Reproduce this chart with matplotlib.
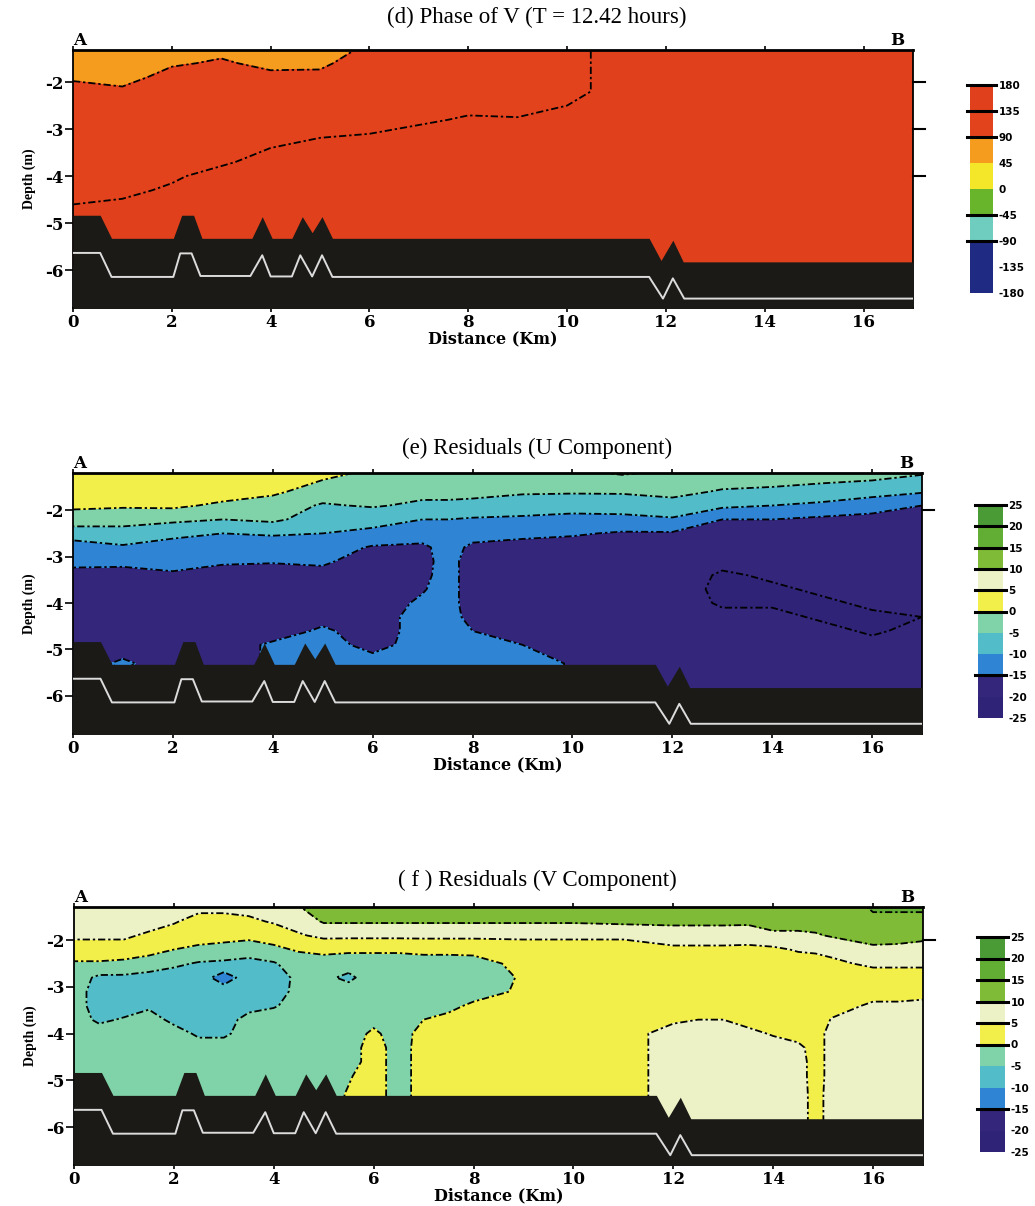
import numpy as np
import matplotlib
matplotlib.use("Agg")
import matplotlib.pyplot as plt
import matplotlib.transforms as mtransforms

plt.rcParams['axes.unicode_minus'] = False

# ---------------- data ----------------
# depth levels of the profile samples (m)
z_rows = [-1.2, -1.6, -1.9, -2.2, -2.5, -2.8, -3.1, -3.4, -3.7, -4.0, -4.3, -4.6, -4.9, -5.3, -5.9]

# (d) phase of V (degrees), one profile per station
x_d = [0, 1, 2, 3, 4, 5, 6, 7, 8, 9, 10, 11, 12, 13, 14, 15, 16, 17]
phase_v = [
    [75, 75, 82, 112, 112, 112, 112, 112, 112, 112, 112, 135, 160, 160, 160],
    [75, 75, 75, 98, 112, 112, 112, 112, 112, 112, 120, 145, 160, 160, 160],
    [75, 85, 105, 112, 112, 112, 112, 112, 112, 125, 145, 160, 160, 160, 160],
    [75, 95, 112, 112, 112, 112, 112, 112, 125, 160, 160, 160, 160, 160, 160],
    [75, 80, 100, 112, 112, 112, 112, 135, 160, 160, 160, 160, 160, 160, 160],
    [75, 82, 100, 112, 112, 112, 125, 160, 160, 160, 160, 160, 160, 160, 160],
    [92, 112, 112, 112, 112, 112, 135, 160, 160, 160, 160, 160, 160, 160, 160],
    [112, 112, 112, 112, 112, 120, 160, 160, 160, 160, 160, 160, 160, 160, 160],
    [112, 112, 112, 112, 112, 145, 160, 160, 160, 160, 160, 160, 160, 160, 160],
    [112, 112, 112, 112, 112, 140, 160, 160, 160, 160, 160, 160, 160, 160, 160],
    [112, 112, 112, 112, 135, 160, 160, 160, 160, 160, 160, 160, 160, 160, 160],
    [160, 160, 160, 160, 160, 160, 160, 160, 160, 160, 160, 160, 160, 160, 160],
    [160, 160, 160, 160, 160, 160, 160, 160, 160, 160, 160, 160, 160, 160, 160],
    [160, 160, 160, 160, 160, 160, 160, 160, 160, 160, 160, 160, 160, 160, 160],
    [160, 160, 160, 160, 160, 160, 160, 160, 160, 160, 160, 160, 160, 160, 160],
    [160, 160, 160, 160, 160, 160, 160, 160, 160, 160, 160, 160, 160, 160, 160],
    [160, 160, 160, 160, 160, 160, 160, 160, 160, 160, 160, 160, 160, 160, 160],
    [160, 160, 160, 160, 160, 160, 160, 160, 160, 160, 160, 160, 160, 160, 160],
]

# (e) residual U (cm/s)
x_e = [0, 1, 2, 3, 4, 5, 6, 7, 7.5, 8, 9, 10, 11, 12, 13, 14, 15, 16, 17]
resid_u = [
    [2.5, 2.5, 1, -2.5, -7.5, -12.5, -12.5, -18, -18, -18, -18, -18, -18, -18, -18],
    [2.5, 2.5, 0.5, -2.5, -7.5, -10.5, -13, -18, -18, -18, -18, -18, -18, -14, -18],
    [2.5, 2.5, 1, -4, -8.5, -12.5, -12.5, -16, -18, -18, -18, -18, -18, -18, -18],
    [2.5, 2.5, -1, -5, -10, -12.5, -14, -18, -18, -18, -18, -18, -18, -18, -18],
    [2.5, 1, -2.5, -4, -9.5, -12.5, -14.5, -18, -18, -18, -18, -18, -14, -14, -18],
    [1.5, -2.5, -5.5, -7.5, -10, -12.5, -14, -17, -18, -18, -17, -14, -12.5, -12.5, -12.5],
    [-1, -3, -4.5, -8.5, -11, -15.5, -18, -18, -18, -18, -18, -18, -17, -12.5, -12.5],
    [-1, -3.5, -6, -10, -12.5, -16, -17, -16.5, -15.5, -14, -12.5, -12.5, -12.5, -12.5, -12.5],
    [-1, -3.5, -6, -10, -12.5, -13, -12.5, -12.5, -12.5, -12.5, -12.5, -12.5, -12.5, -12.5, -12.5],
    [-1, -3.5, -6.5, -10.5, -13, -16, -18, -18, -18, -18, -17, -15, -12.5, -12.5, -12.5],
    [-1, -4.5, -7, -11, -14, -16.5, -18, -18, -18, -18, -18, -17, -15, -12.5, -12.5],
    [-1, -4.5, -8, -11.5, -14.5, -17, -18, -18, -18, -18, -18, -18, -18, -15.5, -15.5],
    [0.5, -4.5, -7.5, -11.5, -15.5, -18, -18, -18, -18, -18, -18, -18, -18, -18, -18],
    [-1, -3.5, -7, -10.5, -15.5, -18, -18, -18, -18, -18, -18, -18, -18, -18, -18],
    [-1.5, -5.5, -9, -15, -18, -18, -19, -20.5, -21, -20.5, -19, -18, -18, -18, -18],
    [-2, -6, -10, -15, -18, -18, -19, -19.5, -20.5, -20.5, -19, -18, -18, -18, -18],
    [-2.5, -7, -11, -16, -18, -18, -18, -19, -19.5, -20.5, -20.5, -19, -18, -18, -18],
    [-3, -8, -13, -16.5, -18, -18, -18, -18, -19, -19.5, -20.5, -20.5, -19, -18, -18],
    [-4.5, -9.5, -15, -17, -18, -18, -18, -18, -18, -19.5, -20, -19, -18, -18, -18],
]

# (f) residual V (cm/s)
x_f = [0, 0.5, 1, 1.5, 2, 2.5, 3, 3.5, 4, 4.5, 5, 5.5, 6, 6.5, 7, 7.5, 8, 9, 10, 11,
       12, 12.5, 13, 13.5, 14, 14.5, 14.85, 15.2, 16, 16.5, 17]
resid_v = [
    [7.5, 7.5, 6, 2.5, -0.5, -2.5, -2.5, -2.5, -2.5, -2.5, -2.5, -2.5, -2.5, -2.5, -2.5],
    [7.5, 7.5, 6, 2.5, -0.5, -6, -7.5, -7.5, -6, -2.5, -2.5, -2.5, -2.5, -2.5, -2.5],
    [7.5, 7.5, 6, 2.5, -1, -6, -7.5, -7.5, -4.5, -2.5, -2.5, -2.5, -2.5, -2.5, -2.5],
    [7.5, 7.5, 4, 1.5, -2, -7, -7.5, -6, -2.5, -2.5, -2.5, -2.5, -2.5, -2.5, -2.5],
    [7.5, 5.5, 2.5, 0, -4, -7.5, -7.5, -7.5, -6.5, -2.5, -2.5, -2.5, -2.5, -2.5, -2.5],
    [7.5, 3, 2, -1, -5.5, -7.5, -7.5, -7.5, -7.5, -6, -2.5, -2.5, -2.5, -2.5, -2.5],
    [7.5, 3, 1.5, -1.5, -6, -12.5, -7.5, -7.5, -7.5, -6, -2.5, -2.5, -2.5, -2.5, -2.5],
    [7.5, 4, 1, -2, -7, -7.5, -7.5, -7, -3, -2.5, -2.5, -2.5, -2.5, -2.5, -2.5],
    [7.5, 5.5, 2, -1, -5.5, -7, -6.5, -5.5, -2.5, -2.5, -2.5, -2.5, -2.5, -2.5, -2.5],
    [10.5, 7, 4.5, 0.5, -2.5, -4, -4, -3, -2.5, -2.5, -2.5, -2.5, -2.5, -2.5, -2.5],
    [12.5, 10.5, 6, 1.5, -2.5, -4, -3, -2.5, -2.5, -2.5, -2.5, -2.5, -2.5, -2.5, -2.5],
    [12.5, 10.5, 6, 1, -3, -6, -3, -2.5, -2.5, -2.5, -2.5, -2.5, -0.5, 0.5, 0.5],
    [12.5, 10.5, 6, 1, -3, -2.5, -2.5, -2.5, -1.5, 1, 2.5, 2.5, 2.5, 2.5, 2.5],
    [12.5, 10.5, 6, 1, -3, -2.5, -2.5, -2.5, -2.5, -2.5, -2.5, -2.5, -2.5, -2.5, -2.5],
    [12.5, 10.5, 6, 1.5, -2.5, -2.5, -2.5, -2.5, 0, 2, 2.5, 2.5, 2.5, 2.5, 2.5],
    [12.5, 10.5, 6, 1.5, -2.5, -2.5, -2.5, -1.5, 1.5, 2.5, 2.5, 2.5, 2.5, 2.5, 2.5],
    [12.5, 10.5, 6, 1.5, -2, -2.5, -2.5, 1, 2.5, 2.5, 2.5, 2.5, 2.5, 2.5, 2.5],
    [12.5, 10.5, 6, 2.5, 1.5, 0.5, 1, 2.5, 2.5, 2.5, 2.5, 2.5, 2.5, 2.5, 2.5],
    [12.5, 10.5, 6, 2.5, 2.5, 2.5, 2.5, 2.5, 2.5, 2.5, 2.5, 2.5, 2.5, 2.5, 2.5],
    [12.5, 11, 6, 2.5, 2.5, 2.5, 2.5, 2.5, 2.5, 2.5, 2.5, 2.5, 2.5, 2.5, 2.5],
    [12.5, 11, 7.5, 4, 2.5, 2.5, 2.5, 2.5, 4, 7.5, 7.5, 7.5, 7.5, 7.5, 7.5],
    [12.5, 11, 7.5, 4, 2.5, 2.5, 2.5, 2.5, 5, 7.5, 7.5, 7.5, 7.5, 7.5, 7.5],
    [12.5, 11, 7.5, 4, 2.5, 2.5, 2.5, 2.5, 5, 7.5, 7.5, 7.5, 7.5, 7.5, 7.5],
    [12.5, 11, 7, 4, 2.5, 2.5, 2.5, 2.5, 3, 6.5, 7.5, 7.5, 7.5, 7.5, 7.5],
    [12.5, 12, 9, 4, 2.5, 2.5, 2.5, 2.5, 2.5, 4.5, 7.5, 7.5, 7.5, 7.5, 7.5],
    [12.5, 12, 9, 5.5, 2.5, 2.5, 2.5, 2.5, 2.5, 2.5, 6.5, 7.5, 7.5, 7.5, 7.5],
    [12.5, 12, 9.5, 6, 2.5, 2.5, 2.5, 2.5, 2.5, 2.5, 2.5, 2.5, 2.5, 3, 3],
    [12.5, 12, 10.5, 6.5, 4, 2.5, 2.5, 2.5, 5.5, 7.5, 7.5, 7.5, 7.5, 7.5, 7.5],
    [16, 14, 12, 9, 6, 2.5, 2.5, 6, 7.5, 7.5, 7.5, 7.5, 7.5, 7.5, 7.5],
    [16, 14, 11.5, 9, 6, 2.5, 2.5, 6, 7.5, 7.5, 7.5, 7.5, 7.5, 7.5, 7.5],
    [16, 14, 11, 8.5, 6, 2.5, 3, 6.5, 7.5, 7.5, 7.5, 7.5, 7.5, 7.5, 7.5],
]

# bathymetry (top of black bed) and white reference line
bed_x = [0, 0.55, 0.78, 2.03, 2.2, 2.44, 2.61, 3.62, 3.83, 4.03, 4.43, 4.64, 4.84, 5.04, 5.25,
         11.66, 11.9, 12.14, 12.35, 17]
bed_z = [-4.83, -4.83, -5.32, -5.32, -4.83, -4.83, -5.32, -5.32, -4.86, -5.32, -5.32, -4.86,
         -5.2, -4.86, -5.32, -5.32, -5.79, -5.36, -5.82, -5.82]
line_x = [0, 0.55, 0.78, 2.03, 2.17, 2.4, 2.58, 3.59, 3.83, 4.0, 4.43, 4.6, 4.84, 5.04, 5.25,
          11.66, 11.94, 12.14, 12.37, 17]
line_z = [-5.63, -5.63, -6.14, -6.14, -5.64, -5.64, -6.12, -6.12, -5.68, -6.13, -6.13, -5.68,
          -6.13, -5.68, -6.14, -6.14, -6.6, -6.17, -6.6, -6.6]

phase_levels = [-180, -135, -90, -45, 0, 45, 90, 135, 180]
phase_colors = ['#1f2a82', '#1f2a82', '#6fcdbf', '#68b52c', '#f4e628', '#f59c1e', '#e2431d', '#e0401b']
phase_lines = [90, 135]
phase_marks = [180, 135, 90, -45, -90]

resid_levels = [-25, -20, -15, -10, -5, 0, 5, 10, 15, 20, 25]
resid_colors = ['#2f2377', '#33267b', '#2f85d4', '#52bcc9', '#80d3a8', '#f2ee4a', '#edf1c6',
                '#7fbb36', '#62ad34', '#4a9b36']
u_lines = [-20, -15, -10, -5, 0]
v_lines = [-10, -5, 0, 5, 10, 15]
resid_marks = [25, 20, 15, 10, 5, 0, -15]

titles = ['(d) Phase of V (T = 12.42 hours)', '(e) Residuals (U Component)',
          '( f ) Residuals (V Component)']

# ---------------- figure ----------------
W, H = 1035, 1206
fig = plt.figure(figsize=(W / 100, H / 100), dpi=100)
fig.patch.set_facecolor('white')


def fx(px):
    return px / W


def fy(py):
    return 1 - py / H


panels = [
    dict(x=x_d, data=phase_v, levels=phase_levels, colors=phase_colors, lines=phase_lines,
         marks=phase_marks, box=(73, 50, 913, 308), ylim=(-6.8, -1.32),
         cbox=(970, 85, 993, 293), title_y=17, right_ticks=[-2, -3, -4]),
    dict(x=x_e, data=resid_u, levels=resid_levels, colors=resid_colors, lines=u_lines,
         marks=resid_marks, box=(73, 473, 922, 734), ylim=(-6.82, -1.2),
         cbox=(978, 505, 1003, 718), title_y=448, right_ticks=[-2]),
    dict(x=x_f, data=resid_v, levels=resid_levels, colors=resid_colors, lines=v_lines,
         marks=resid_marks, box=(74, 907, 923, 1165), ylim=(-6.81, -1.29),
         cbox=(980, 937, 1005, 1152), title_y=880, right_ticks=[-2]),
]

for p, title in zip(panels, titles):
    l, t, r, b = p['box']
    ax = fig.add_axes([fx(l), fy(b), fx(r - l), (b - t) / H])
    X, Z = np.meshgrid(np.array(p['x'], float), np.array(z_rows, float))
    F = np.array(p['data'], float).T
    cf = ax.contourf(X, Z, F, levels=p['levels'], colors=p['colors'])
    cs = ax.contour(X, Z, F, levels=p['lines'], colors='k', linewidths=1.3)
    cs.set_linestyle((0, (4, 1.6, 1.3, 1.6)))
    ax.fill_between(bed_x, bed_z, -7.5, color='#1b1a17', lw=0, zorder=3)
    ax.plot(line_x, line_z, color='#dcdcdc', lw=1.4, zorder=4)
    ax.set_xlim(0, 17)
    ax.set_ylim(*p['ylim'])
    ax.set_xticks([0, 2, 4, 6, 8, 10, 12, 14, 16])
    ax.set_yticks([-2, -3, -4, -5, -6])
    ax.tick_params(axis='x', direction='out', length=3, width=1.2, top=True, pad=1)
    ax.tick_params(axis='y', direction='out', length=6, width=1.2, pad=1)
    for lab in ax.get_xticklabels() + ax.get_yticklabels():
        lab.set_fontfamily('DejaVu Serif')
        lab.set_fontweight('bold')
        lab.set_fontsize(12)
    for s in ax.spines.values():
        s.set_linewidth(1.3)
    ax.spines['top'].set_linewidth(2.0)
    ax.set_xlabel('Distance (Km)', fontfamily='DejaVu Serif', fontweight='bold', fontsize=11.5,
                  labelpad=0)
    ax.set_ylabel('Depth (m)', fontfamily='Liberation Serif', fontweight='bold', fontsize=10,
                  labelpad=6)
    trans = mtransforms.blended_transform_factory(ax.transAxes, ax.transData)
    for v in p['right_ticks']:
        ax.plot([1.0, 1.014], [v, v], color='k', lw=1.5, transform=trans, clip_on=False)
    ax.text(0.0, 1.004, 'A', transform=ax.transAxes, ha='left', va='bottom',
            fontfamily='DejaVu Serif', fontweight='bold', fontsize=12)
    ax.text(0.99, 1.004, 'B', transform=ax.transAxes, ha='right', va='bottom',
            fontfamily='DejaVu Serif', fontweight='bold', fontsize=12)
    fig.text(fx(537), fy(p['title_y']), title, ha='center', va='center',
             fontfamily='Liberation Serif', fontsize=16.5)

    # colour bar
    cl, ct, cr, cb_ = p['cbox']
    cax = fig.add_axes([fx(cl), fy(cb_), fx(cr - cl), (cb_ - ct) / H])
    cbar = fig.colorbar(cf, cax=cax, ticks=p['levels'])
    cbar.outline.set_visible(False)
    cax.tick_params(length=0, pad=4)
    cax.set_yticklabels([str(v) for v in p['levels']])
    for lab in cax.get_yticklabels():
        lab.set_fontfamily('DejaVu Sans')
        lab.set_fontweight('bold')
        lab.set_fontsize(7.5)
    ctrans = mtransforms.blended_transform_factory(cax.transAxes, cax.transData)
    for v in p['marks']:
        cax.plot([-0.12, 1.12], [v, v], color='k', lw=2.2, transform=ctrans, clip_on=False)

fig.savefig('out.png', dpi=100, facecolor='white')
